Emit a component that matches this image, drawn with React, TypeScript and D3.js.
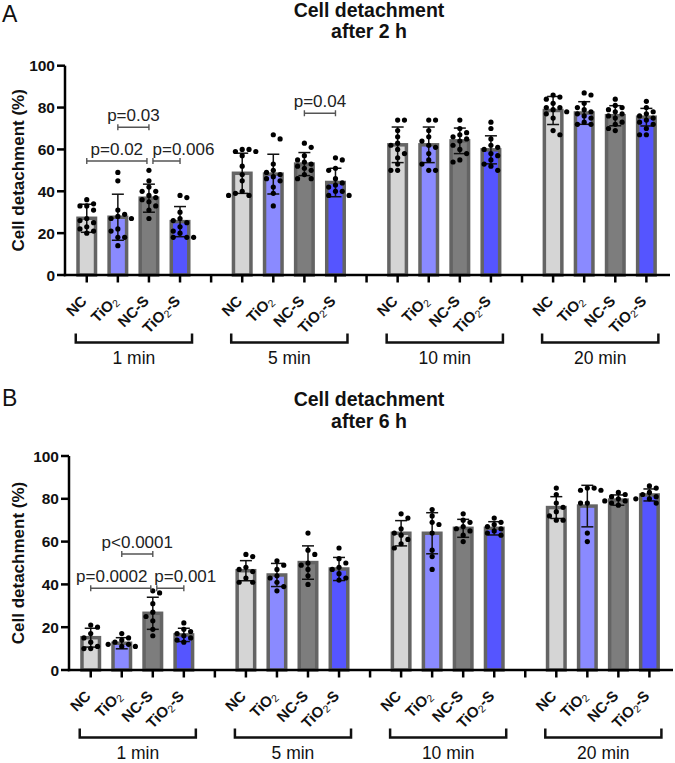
import React from "react";
import * as d3 from "d3";

// ---------- DATA ----------
const groups = ["1 min", "5 min", "10 min", "20 min"];
const conditions = ["NC", "TiO2", "NC-S", "TiO2-S"];
const yTicks = [0, 20, 40, 60, 80, 100];

// Panel A: after 2 h  (rows = groups, cols = conditions)
const means2h = [
  [27.1, 27.6, 36.7, 25.5],
  [48.6, 48.2, 53.0, 44.2],
  [62.2, 62.2, 64.1, 59.8],
  [78.6, 77.4, 76.1, 75.4],
];
const sd2h = [
  [6.7, 11.0, 6.7, 7.2],
  [9.6, 9.5, 5.5, 6.8],
  [8.5, 8.5, 6.1, 6.7],
  [6.7, 5.4, 4.8, 4.2],
];
const points2h = [
  [
    [36, 34, 33, 33, 31, 27, 26, 25, 23, 22, 21, 20],
    [49, 45, 31, 29, 28, 27, 27, 22, 21, 18, 18, 14],
    [50, 45, 42, 40, 40, 38, 37, 36, 35, 33, 31, 27],
    [38, 37, 30, 27, 26, 25, 23, 21, 20, 18, 18, 18],
  ],
  [
    [60, 60, 59, 59, 57, 52, 48, 45, 40, 39, 38, 38],
    [67, 65, 53, 50, 49, 48, 47, 46, 45, 42, 39, 33],
    [63, 61, 57, 55, 54, 53, 52, 51, 50, 48, 46, 46],
    [56, 55, 51, 50, 46, 44, 43, 42, 40, 40, 38, 38],
  ],
  [
    [74, 74, 69, 66, 63, 62, 60, 58, 56, 53, 50, 50],
    [74, 74, 69, 66, 64, 62, 61, 58, 55, 53, 50, 50],
    [74, 70, 68, 67, 66, 65, 64, 62, 60, 58, 55, 54],
    [73, 70, 65, 62, 61, 60, 58, 57, 55, 53, 52, 50],
  ],
  [
    [86, 85, 84, 82, 80, 80, 79, 78, 77, 75, 69, 67],
    [87, 86, 82, 80, 79, 78, 77, 76, 75, 73, 72, 72],
    [84, 81, 80, 79, 78, 77, 76, 75, 73, 72, 70, 69],
    [83, 80, 78, 77, 76, 75, 74, 73, 72, 70, 67, 67],
  ],
];
const sig2h = [
  { group: 0, from: 1, to: 2, value: 70.6, label: "p=0.03" },
  { group: 0, from: 0, to: 2, value: 54.5, label: "p=0.02" },
  { group: 0, from: 2, to: 3, value: 54.5, label: "p=0.006" },
  { group: 1, from: 2, to: 3, value: 77.3, label: "p=0.04" },
];

// Panel B: after 6 h
const means6h = [
  [15.1, 12.5, 26.5, 16.4],
  [46.4, 44.4, 50.2, 47.2],
  [63.9, 63.9, 66.2, 66.2],
  [75.9, 76.6, 79.4, 81.8],
];
const sd6h = [
  [4.4, 2.6, 7.5, 3.1],
  [4.7, 5.4, 7.8, 5.4],
  [5.9, 9.6, 4.2, 3.1],
  [5.1, 9.7, 2.4, 2.8],
];
const points6h = [
  [
    [21, 20, 17, 15, 13, 11, 10, 10],
    [17, 15, 14, 13, 12, 12, 11, 11],
    [37, 36, 31, 27, 25, 23, 19, 16],
    [22, 19, 18, 17, 16, 15, 14, 13],
  ],
  [
    [54, 53, 48, 47, 46, 43, 41, 41],
    [51, 49, 47, 44, 43, 41, 39, 37],
    [64, 56, 54, 50, 49, 47, 44, 40],
    [57, 52, 50, 48, 47, 45, 43, 42],
  ],
  [
    [73, 71, 66, 64, 63, 61, 59, 57],
    [75, 72, 69, 68, 64, 56, 53, 47],
    [73, 70, 69, 67, 66, 65, 63, 60],
    [71, 69, 68, 67, 66, 65, 64, 63],
  ],
  [
    [85, 82, 78, 76, 74, 72, 70, 70],
    [85, 85, 84, 84, 78, 78, 64, 60],
    [83, 82, 81, 80, 79, 79, 78, 77],
    [86, 85, 83, 82, 81, 80, 80, 78],
  ],
];
const sig6h = [
  { group: 0, from: 1, to: 2, value: 54.2, label: "p<0.0001" },
  { group: 0, from: 0, to: 2, value: 38.2, label: "p=0.0002" },
  { group: 0, from: 2, to: 3, value: 38.2, label: "p=0.001" },
];

// ---------- STYLE ----------
const FONT = "'Liberation Sans', Arial, Helvetica, sans-serif";
const fills = ["#d5d5d5", "#8a8aff", "#7d7d7d", "#5555ff"];
const barStroke = "#646464";

type Sig = { group: number; from: number; to: number; value: number; label: string };

function swarm(values: number[], yPx: (v: number) => number, r: number) {
  const pts = values.map((v) => ({ v, y: yPx(v), dx: 0 })).sort((a, b) => a.y - b.y);
  const placed: { y: number; dx: number }[] = [];
  const step = 2 * r + 1.6;
  const minD = 2 * r + 1.0;
  let flip = 1;
  for (const p of pts) {
    const cands: number[] = [0];
    for (let k = 1; k < 10; k++) {
      cands.push(flip * k * step * 0.5, -flip * k * step * 0.5);
    }
    let chosen = 0;
    for (const c of cands) {
      const ok = placed.every((q) => Math.hypot(q.dx - c, q.y - p.y) >= minD);
      if (ok) {
        chosen = c;
        break;
      }
    }
    if (chosen !== 0) flip = -flip;
    p.dx = chosen;
    placed.push({ y: p.y, dx: chosen });
  }
  return pts;
}

function CatText({ name }: { name: string }) {
  if (name.startsWith("TiO2")) {
    const rest = name.slice(4);
    return (
      <>
        <tspan>TiO</tspan>
        <tspan fontSize={10.5} fontWeight="normal" dy={2.5}>2</tspan>
        {rest && <tspan dy={-2.5}>{rest}</tspan>}
      </>
    );
  }
  return <>{name}</>;
}

type PanelProps = {
  letter: string;
  titleLine2: string;
  letterY: number;
  titleY: [number, number];
  yRange: [number, number];
  xRange: [number, number];
  means: number[][];
  sds: number[][];
  points: number[][][];
  sigs: Sig[];
  labelShift: number[];
};

function Panel(p: PanelProps) {
  const y = d3.scaleLinear().domain([0, 100]).range(p.yRange);
  const x = d3.scaleLinear().domain([-0.7, 18.76]).range(p.xRange);
  const axisX = p.xRange[0];
  const axisY = y(0);
  const pos = (g: number, c: number) => g * 5 + c;
  const barW = 17.5;
  const allTicks = d3.range(0, 19);

  return (
    <g fontFamily={FONT}>
      <text x={2} y={p.letterY} fontSize={23} fill="#111">{p.letter}</text>
      <text x={369} y={p.titleY[0]} fontSize={19.5} fontWeight="bold" textAnchor="middle" fill="#111">Cell detachment</text>
      <text x={369} y={p.titleY[1]} fontSize={19.5} fontWeight="bold" textAnchor="middle" fill="#111">{p.titleLine2}</text>

      {/* y axis label */}
      <text
        transform={`translate(24,${(y(0) + y(100)) / 2}) rotate(-90)`}
        fontSize={17}
        fontWeight="bold"
        textAnchor="middle"
        fill="#111"
      >
        Cell detachment (%)
      </text>

      {/* bars */}
      {p.means.map((row, g) =>
        row.map((m, c) => {
          const cx = x(pos(g, c));
          return (
            <rect
              key={`b${g}${c}`}
              x={cx - barW / 2}
              y={y(m)}
              width={barW}
              height={axisY - y(m)}
              fill={fills[c]}
              stroke={barStroke}
              strokeWidth={3.5}
            />
          );
        })
      )}

      {/* error bars */}
      {p.means.map((row, g) =>
        row.map((m, c) => {
          const cx = x(pos(g, c));
          const s = p.sds[g][c];
          const hi = y(m + s);
          const lo = y(m - s);
          return (
            <g key={`e${g}${c}`} stroke="#111" strokeWidth={1.5}>
              <line x1={cx} x2={cx} y1={hi} y2={lo} />
              <line x1={cx - 6} x2={cx + 6} y1={hi} y2={hi} />
              <line x1={cx - 6} x2={cx + 6} y1={lo} y2={lo} />
            </g>
          );
        })
      )}

      {/* points */}
      {p.points.map((row, g) =>
        row.map((vals, c) => {
          const cx = x(pos(g, c));
          return swarm(vals, (v) => y(v), 2.6).map((pt, i) => (
            <circle key={`p${g}${c}${i}`} cx={cx + pt.dx} cy={pt.y} r={2.6} fill="#000" />
          ));
        })
      )}

      {/* y axis */}
      <line x1={axisX} x2={axisX} y1={y(100)} y2={axisY + 1.25} stroke="#000" strokeWidth={2.5} />
      {yTicks.map((t) => (
        <g key={`yt${t}`}>
          <line x1={axisX - 8} x2={axisX} y1={y(t)} y2={y(t)} stroke="#000" strokeWidth={2.5} />
          <text x={axisX - 10} y={y(t)} dy="0.36em" fontSize={15.5} fontWeight="bold" textAnchor="end" fill="#111">
            {t}
          </text>
        </g>
      ))}

      {/* x axis */}
      <line x1={axisX - 1.25} x2={p.xRange[1]} y1={axisY} y2={axisY} stroke="#000" strokeWidth={2.5} />
      {allTicks.map((i) => (
        <line key={`xt${i}`} x1={x(i)} x2={x(i)} y1={axisY} y2={axisY + 7.5} stroke="#000" strokeWidth={2.5} />
      ))}

      {/* category labels */}
      {groups.map((gName, g) =>
        conditions.map((c, ci) => {
          const cx = x(pos(g, ci));
          return (
            <text
              key={`cl${g}${ci}`}
              transform={`translate(${cx + 1},${axisY + 27}) rotate(-45)`}
              fontSize={15}
              fontWeight="bold"
              textAnchor="end"
              fill="#111"
            >
              <CatText name={c} />
            </text>
          );
        })
      )}

      {/* group brackets */}
      {groups.map((gName, g) => {
        const x1 = x(pos(g, 0)) - 11;
        const x2 = x(pos(g, 3)) + 12;
        const by = axisY + 67.5;
        return (
          <g key={`gb${g}`}>
            <path
              d={`M${x1},${by - 9}V${by}H${x2}V${by - 9}`}
              fill="none"
              stroke="#111"
              strokeWidth={2.5}
            />
            <text x={(x1 + x2) / 2} y={axisY + 89} fontSize={17.5} textAnchor="middle" fill="#111">
              {gName}
            </text>
          </g>
        );
      })}

      {/* significance brackets */}
      {p.sigs.map((s, i) => {
        const x1 = x(pos(s.group, s.from)) + (i === 2 ? 4 : 0);
        const x2 = x(pos(s.group, s.to)) - (i === 1 ? 2 : 0);
        const by = y(s.value);
        return (
          <g key={`sg${i}`}>
            <path
              d={`M${x1},${by - 3}V${by + 3}M${x1},${by}H${x2}M${x2},${by - 3}V${by + 3}`}
              fill="none"
              stroke="#555"
              strokeWidth={1.4}
            />
            <text
              x={(x1 + x2) / 2 + p.labelShift[i]}
              y={by - 6}
              fontSize={17}
              textAnchor="middle"
              fill="#222"
            >
              {s.label}
            </text>
          </g>
        );
      })}
    </g>
  );
}

export default function App() {
  return (
    <svg width={675} height={763} style={{ display: "block", position: "absolute", left: 0, top: 0 }}>
      <rect width={675} height={763} fill="#fff" />
      <Panel
        letter="A"
        titleLine2="after 2 h"
        letterY={21.5}
        titleY={[17.3, 38.3]}
        yRange={[275, 65.7]}
        xRange={[65, 670]}
        means={means2h}
        sds={sd2h}
        points={points2h}
        sigs={sig2h}
        labelShift={[0, 0, 17, 0]}
      />
      <Panel
        letter="B"
        titleLine2="after 6 h"
        letterY={405.5}
        titleY={[406, 428.3]}
        yRange={[670, 456]}
        xRange={[69, 673]}
        means={means6h}
        sds={sd6h}
        points={points6h}
        sigs={sig6h}
        labelShift={[0, -9, 15]}
      />
    </svg>
  );
}
